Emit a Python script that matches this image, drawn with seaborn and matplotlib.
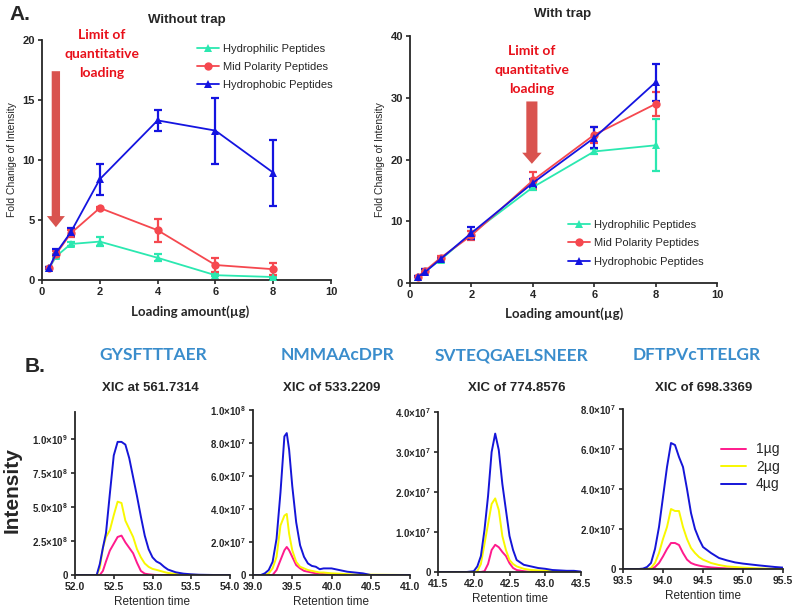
import numpy as np
import pandas as pd
import seaborn as sns
import matplotlib.pyplot as plt
import matplotlib.ticker as ticker

# ---- Panel A data (fold change of intensity vs loading amount) ----
load_ug = [0.25, 0.5, 1, 2, 4, 6, 8]
series_names = ['Hydrophilic Peptides', 'Mid Polarity Peptides', 'Hydrophobic Peptides']

notrap_philic = [1.0, 2.0, 3.0, 3.2, 1.85, 0.4, 0.25]
notrap_philic_err = [0.1, 0.15, 0.15, 0.4, 0.3, 0.1, 0.1]
notrap_mid = [1.0, 2.2, 3.9, 6.0, 4.15, 1.25, 0.9]
notrap_mid_err = [0.05, 0.2, 0.3, 0.1, 0.95, 0.55, 0.5]
notrap_phobic = [1.0, 2.3, 4.0, 8.4, 13.3, 12.45, 8.95]
notrap_phobic_err = [0.05, 0.25, 0.3, 1.3, 0.9, 2.75, 2.75]

trap_philic = [1.0, 1.9, 3.8, 8.0, 15.5, 21.3, 22.3]
trap_philic_err = [0.1, 0.2, 0.3, 0.5, 0.5, 0.4, 4.2]
trap_mid = [1.0, 2.0, 4.1, 7.7, 16.6, 24.0, 29.0]
trap_mid_err = [0.1, 0.2, 0.2, 0.8, 1.3, 1.3, 2.0]
trap_phobic = [1.0, 1.8, 3.9, 8.1, 16.2, 23.5, 32.5]
trap_phobic_err = [0.1, 0.4, 0.2, 1.0, 0.7, 1.7, 3.0]

# ---- Panel B data (XIC chromatograms) ----
amounts = ['1µg', '2µg', '4µg']

rt1 = [52.0, 52.2, 52.28, 52.32, 52.36, 52.4, 52.45, 52.5, 52.55, 52.6, 52.65, 52.7, 52.75, 52.8,
       52.85, 52.9, 52.95, 53.0, 53.05, 53.1, 53.15, 53.2, 53.3, 53.4, 53.5, 53.6, 53.8, 54.0]
xic1_4 = [0, 0, 0, 0.8, 2.0, 3.1, 6.0, 8.8, 9.8, 9.8, 9.6, 8.6, 7.2, 5.8,
          4.3, 2.9, 1.9, 1.3, 1.0, 0.85, 0.6, 0.4, 0.2, 0.1, 0.05, 0.02, 0, 0]
xic1_2 = [0, 0, 0, 0.5, 2.0, 2.8, 3.3, 4.4, 5.4, 5.3, 4.0, 3.4, 2.8, 1.9,
          1.3, 0.85, 0.6, 0.45, 0.38, 0.3, 0.22, 0.15, 0.08, 0.04, 0.02, 0, 0, 0]
xic1_1 = [0, 0, 0, 0, 0.3, 1.0, 1.8, 2.3, 2.8, 2.9, 2.4, 2.0, 1.6, 0.9,
          0.3, 0.1, 0.05, 0.02, 0, 0, 0, 0, 0, 0, 0, 0, 0, 0]

rt2 = [39.0, 39.1, 39.15, 39.2, 39.25, 39.3, 39.35, 39.4, 39.43, 39.46, 39.5, 39.55, 39.6,
       39.65, 39.7, 39.75, 39.8, 39.85, 39.9, 40.0, 40.1, 40.2, 40.3, 40.4, 40.5, 41.0]
xic2_4 = [0, 0, 0.1, 0.3, 0.8, 2.2, 5.0, 8.4, 8.6, 7.6, 5.4, 3.2, 1.8,
          1.1, 0.7, 0.55, 0.5, 0.35, 0.4, 0.4, 0.3, 0.2, 0.15, 0.1, 0, 0]
xic2_2 = [0, 0, 0, 0.1, 0.4, 1.1, 3.0, 3.6, 3.7, 2.5, 1.5, 0.8, 0.5,
          0.4, 0.3, 0.25, 0.2, 0.15, 0.15, 0.1, 0.08, 0.05, 0.03, 0.02, 0.02, 0]
xic2_1 = [0, 0, 0, 0, 0, 0.3, 0.9, 1.5, 1.7, 1.5, 1.1, 0.6, 0.4,
          0.25, 0.2, 0.15, 0.1, 0.08, 0.05, 0.03, 0.02, 0, 0, 0, 0, 0]

rt3 = [41.5, 41.9, 42.0, 42.05, 42.1, 42.15, 42.2, 42.25, 42.3, 42.35, 42.4, 42.45, 42.5,
       42.55, 42.6, 42.7, 42.8, 42.9, 43.0, 43.1, 43.2, 43.3, 43.4, 43.5]
xic3_4 = [0, 0, 0.02, 0.14, 0.4, 1.05, 1.9, 3.0, 3.46, 3.05, 2.2, 1.55, 0.9,
          0.55, 0.3, 0.18, 0.14, 0.1, 0.08, 0.05, 0.04, 0.03, 0.03, 0.01]
xic3_2 = [0, 0, 0, 0.02, 0.2, 0.7, 1.2, 1.7, 1.84, 1.55, 0.9, 0.55, 0.3,
          0.2, 0.14, 0.08, 0.05, 0.04, 0.03, 0.02, 0.01, 0, 0, 0]
xic3_1 = [0, 0, 0, 0, 0, 0.02, 0.2, 0.55, 0.68, 0.62, 0.5, 0.4, 0.22,
          0.1, 0.05, 0.02, 0, 0, 0, 0, 0, 0, 0, 0]

rt4 = [93.5, 93.7, 93.75, 93.8, 93.85, 93.9, 93.95, 94.0, 94.05, 94.1, 94.15, 94.2, 94.25,
       94.3, 94.35, 94.4, 94.45, 94.5, 94.6, 94.7, 94.8, 94.9, 95.0, 95.2, 95.4, 95.5]
xic4_4 = [0, 0, 0.02, 0.1, 0.3, 1.0, 2.1, 3.6, 5.1, 6.3, 6.2, 5.6, 5.1,
          4.0, 2.8, 2.0, 1.5, 1.1, 0.8, 0.55, 0.43, 0.33, 0.27, 0.18, 0.1, 0.07]
xic4_2 = [0, 0, 0, 0, 0.05, 0.3, 0.8, 1.5, 2.1, 3.0, 2.9, 2.9, 2.1,
          1.5, 1.05, 0.8, 0.6, 0.47, 0.3, 0.2, 0.13, 0.1, 0.07, 0.03, 0.01, 0]
xic4_1 = [0, 0, 0, 0, 0, 0.1, 0.3, 0.63, 1.0, 1.3, 1.3, 1.2, 0.8,
          0.47, 0.3, 0.22, 0.17, 0.13, 0.08, 0.05, 0.03, 0.02, 0.01, 0, 0, 0]

peptides = ['GYSFTTTAER', 'NMMAAcDPR', 'SVTEQGAELSNEER', 'DFTPVcTTELGR']
xic_titles = ['XIC at 561.7314', 'XIC of 533.2209', 'XIC of 774.8576', 'XIC of 698.3369']

# ---- style ----
sns.set_style('ticks')
plt.rcParams['font.family'] = ['Liberation Sans', 'DejaVu Sans']
plt.rcParams['mathtext.default'] = 'regular'
plt.rcParams['axes.linewidth'] = 1.3
plt.rcParams['xtick.major.width'] = 1.2
plt.rcParams['ytick.major.width'] = 1.2
plt.rcParams['xtick.major.size'] = 3
plt.rcParams['ytick.major.size'] = 3

series_colors = ['#2BE8B0', '#F5484F', '#1414E0']
series_markers = ['^', 'o', '^']
xic_colors = {'1µg': '#FF1A8C', '2µg': '#F8F800', '4µg': '#1515D8'}
arrow_red = '#D9534F'
text_red = '#E8101A'
pep_blue = '#3A8DCC'
calibri_like = ['Lato', 'DejaVu Sans']

W, H = 800, 612
fig = plt.figure(figsize=(8, 6.12), dpi=100)


def box(x0, x1, ytop, ybot):
    return [x0 / W, 1 - ybot / H, (x1 - x0) / W, (ybot - ytop) / H]


def ftext(x, y, s, **kw):
    fig.text(x / W, 1 - y / H, s, **kw)


def panel_a(ax, ys, errs, ylim, ystep, legend_anchor):
    rows = []
    for name, vals in zip(series_names, ys):
        for x, v in zip(load_ug, vals):
            rows.append({'load': x, 'fold': v, 'type': name})
    df = pd.DataFrame(rows)
    for name, vals, err, col in zip(series_names, ys, errs, series_colors):
        ax.errorbar(load_ug, vals, yerr=err, fmt='none', ecolor=col, elinewidth=1.6,
                    capsize=3, capthick=1.6, zorder=2)
    sns.lineplot(data=df, x='load', y='fold', hue='type', style='type',
                 palette=series_colors, markers=series_markers, dashes=False,
                 markersize=6, markeredgewidth=0, linewidth=1.3, ax=ax, zorder=3)
    ax.set_xlim(0, 10)
    ax.set_ylim(0, ylim)
    ax.set_xticks(range(0, 11, 2))
    ax.set_yticks(np.arange(0, ylim + 1, ystep))
    for lab in ax.get_xticklabels() + ax.get_yticklabels():
        lab.set_fontweight('bold')
        lab.set_fontsize(8)
    ax.tick_params(pad=2)
    ax.set_xlabel('')
    ax.set_ylabel('Fold Chanige of Intensity', fontsize=7.5, labelpad=4)
    sns.despine(ax=ax)
    ax.legend(title=None, frameon=False, fontsize=8, loc='upper left',
              bbox_to_anchor=legend_anchor, borderaxespad=0, borderpad=0,
              handlelength=2.0, labelspacing=0.75, handletextpad=0.35)


# ---- Panel A ----
axA1 = fig.add_axes(box(42, 331, 40, 280))
panel_a(axA1, [notrap_philic, notrap_mid, notrap_phobic],
        [notrap_philic_err, notrap_mid_err, notrap_phobic_err], 20, 5, (0.535, 0.985))
axA1.annotate('', xy=(0.48, 4.4), xytext=(0.48, 17.4),
              arrowprops=dict(facecolor=arrow_red, edgecolor='none', width=6,
                              headwidth=13, headlength=8))
axA1.text(2.08, 20.9, 'Limit of\nquantitative\nloading', color=text_red, fontsize=10,
          fontweight='bold', family=calibri_like, ha='center', va='top',
          linespacing=1.7, clip_on=False)

axA2 = fig.add_axes(box(410, 717, 36, 283))
panel_a(axA2, [trap_philic, trap_mid, trap_phobic],
        [trap_philic_err, trap_mid_err, trap_phobic_err], 40, 10, (0.515, 0.255))
axA2.annotate('', xy=(3.97, 19.3), xytext=(3.97, 29.4),
              arrowprops=dict(facecolor=arrow_red, edgecolor='none', width=8,
                              headwidth=14, headlength=8))
axA2.text(3.97, 38.5, 'Limit of\nquantitative\nloading', color=text_red, fontsize=10,
          fontweight='bold', family=calibri_like, ha='center', va='top',
          linespacing=1.7)

ftext(20, 14, 'A.', fontsize=15, fontweight='bold', ha='center', va='center')
ftext(187, 20, 'Without trap', fontsize=9.5, fontweight='bold', ha='center', va='center')
ftext(563, 14, 'With trap', fontsize=9.5, fontweight='bold', ha='center', va='center')
ftext(190, 312, 'Loading amount(µg)', fontsize=9.5, fontweight='bold', ha='center',
      va='center', family=calibri_like)
ftext(564, 314, 'Loading amount(µg)', fontsize=9.5, fontweight='bold', ha='center',
      va='center', family=calibri_like)

# ---- Panel B ----
xic_sets = [
    (rt1, [xic1_1, xic1_2, xic1_4], 1e8, (52.0, 54.0), 1.2e9, 2.5e8, 1e9, box(75, 230, 412, 575)),
    (rt2, [xic2_1, xic2_2, xic2_4], 1e7, (39.0, 41.0), 1.0e8, 2e7, 1e8, box(253, 410, 410, 575)),
    (rt3, [xic3_1, xic3_2, xic3_4], 1e7, (41.5, 43.5), 4.0e7, 1e7, 4e7, box(438, 581, 412, 572)),
    (rt4, [xic4_1, xic4_2, xic4_4], 1e7, (93.5, 95.5), 8.0e7, 2e7, 8e7, box(623, 783, 409, 569)),
]


def sci_fmt(v, pos):
    if v == 0:
        return '0'
    e = int(np.floor(np.log10(v)))
    return '%.1f×10$^{%d}$' % (v / 10 ** e, e)


for i, (rt, curves, scale, xlim, ytop, ystep, ymaxtick, rect) in enumerate(xic_sets):
    ax = fig.add_axes(rect)
    for amt, vals in zip(amounts, curves):
        df = pd.DataFrame({'rt': rt, 'inten': np.array(vals) * scale})
        sns.lineplot(data=df, x='rt', y='inten', color=xic_colors[amt], linewidth=1.4,
                     ax=ax, label=amt)
    ax.set_xlim(*xlim)
    ax.set_ylim(0, ytop)
    ax.set_xticks(np.arange(xlim[0], xlim[1] + 0.01, 0.5))
    ax.xaxis.set_major_formatter(ticker.FormatStrFormatter('%.1f'))
    ax.set_yticks(np.arange(0, ymaxtick + 1, ystep))
    ax.yaxis.set_major_formatter(ticker.FuncFormatter(sci_fmt))
    for lab in ax.get_xticklabels():
        lab.set_fontweight('bold')
        lab.set_fontsize(7.5)
    for lab in ax.get_yticklabels():
        lab.set_fontweight('bold')
        lab.set_fontsize(7)
    ax.tick_params(pad=2)
    ax.set_xlabel('Retention time', fontsize=8.5, labelpad=3)
    ax.set_ylabel('')
    sns.despine(ax=ax)
    if i == 3:
        ax.legend(frameon=False, fontsize=10, loc=(0.58, 0.45), handlelength=1.8,
                  labelspacing=0.25, handletextpad=0.7)
    else:
        ax.get_legend().remove()

pep_x = [153, 338, 512, 697]
xic_x = [150, 332, 517, 704]
for px, qx, pep, ttl in zip(pep_x, xic_x, peptides, xic_titles):
    ftext(px, 355, pep, fontsize=12.5, fontweight='bold', color=pep_blue, ha='center',
          va='center', family=calibri_like)
    ftext(qx, 388, ttl, fontsize=9.5, fontweight='bold', ha='center', va='center')

ftext(35, 366, 'B.', fontsize=15, fontweight='bold', ha='center', va='center')
ftext(12, 490, 'Intensity', fontsize=15, fontweight='bold', rotation=90, ha='center',
      va='center')

fig.savefig('out.png', dpi=100)
